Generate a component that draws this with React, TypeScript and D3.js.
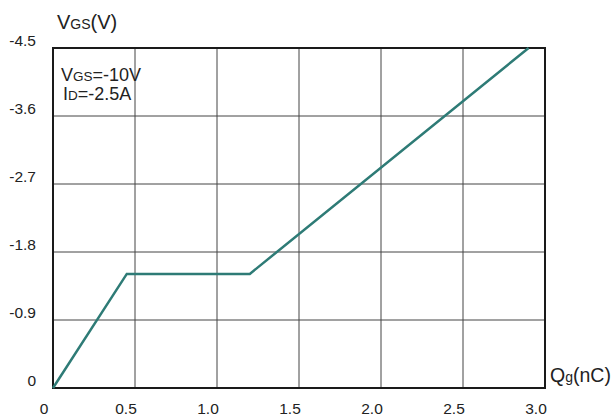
import * as d3 from "d3";

const xTicks = [0, 0.5, 1.0, 1.5, 2.0, 2.5, 3.0];
const xTickLabels = ["0", "0.5", "1.0", "1.5", "2.0", "2.5", "3.0"];
const yTicks = [0, -0.9, -1.8, -2.7, -3.6, -4.5];
const yTickLabels = ["0", "-0.9", "-1.8", "-2.7", "-3.6", "-4.5"];
const qg = [0, 0.45, 1.2, 2.9];
const vgs = [0, -1.51, -1.51, -4.5];

export default function App() {
  const width = 612;
  const height = 417;
  const left = 53, right = 545, top = 48, bottom = 388;
  const x = d3.scaleLinear().domain([0, 3]).range([left, right]);
  const y = d3.scaleLinear().domain([0, -4.5]).range([bottom, top]);
  const pts: [number, number][] = qg.map((q, i) => [q, vgs[i]]);
  const line = d3.line<[number, number]>().x(d => x(d[0])).y(d => y(d[1]));
  const font = "Arial, 'Liberation Sans', sans-serif";

  return (
    <svg width={width} height={height} style={{ position: "absolute", left: 0, top: 0 }} fontFamily={font}>
      <rect width={width} height={height} fill="#fff" />
      {xTicks.slice(1, -1).map(t => (
        <line key={"gx" + t} x1={x(t)} x2={x(t)} y1={top} y2={bottom} stroke="#444" strokeWidth={1} />
      ))}
      {yTicks.slice(1, -1).map(t => (
        <line key={"gy" + t} x1={left} x2={right} y1={y(t)} y2={y(t)} stroke="#444" strokeWidth={1} />
      ))}
      <rect x={left} y={top} width={right - left} height={bottom - top} fill="none" stroke="#1a1a1a" strokeWidth={2} />
      <path d={line(pts) ?? ""} fill="none" stroke="#2e7b76" strokeWidth={2.5} />
      {xTicks.map((t, i) => (
        <text key={"xl" + t} x={x(t) - 9} y={414} fontSize={15.5} textAnchor="middle" fill="#222">{xTickLabels[i]}</text>
      ))}
      {yTicks.map((t, i) => (
        <text key={"yl" + t} x={36} y={y(t) - 2} fontSize={15.5} textAnchor="end" fill="#222">{yTickLabels[i]}</text>
      ))}
      <text x={57} y={29} fontSize={20} fill="#222">V<tspan fontSize={14}>GS</tspan>(V)</text>
      <text x={61} y={81} fontSize={18} fill="#222">V<tspan fontSize={13.5}>GS</tspan>=-10V</text>
      <text x={63} y={100} fontSize={18} fill="#222">I<tspan fontSize={13.5}>D</tspan>=-2.5A</text>
      <text x={550} y={382} fontSize={19.5} fill="#222">Q<tspan fontSize={14}>g</tspan>(nC)</text>
    </svg>
  );
}
